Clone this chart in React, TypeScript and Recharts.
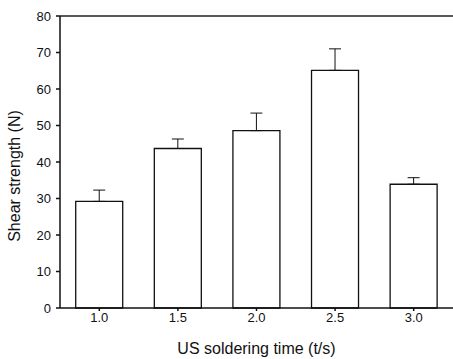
import { BarChart, Bar, XAxis, YAxis, ErrorBar, ReferenceLine, Label } from "recharts";

const times = ["1.0", "1.5", "2.0", "2.5", "3.0"];
const strength = [29.2, 43.7, 48.6, 65.1, 33.9];
const errUp = [3.1, 2.6, 4.8, 5.9, 1.8];
const yTicks = [0, 10, 20, 30, 40, 50, 60, 70, 80];

const data = times.map((t, i) => ({ time: t, value: strength[i], err: [0, errUp[i]] }));

const font = "Arial, 'Liberation Sans', Helvetica, sans-serif";

export default function App() {
  return (
    <div style={{ position: "absolute", left: 0, top: 0, width: 453, height: 359, background: "#fff", fontFamily: font }}>
      <BarChart
        width={453}
        height={359}
        data={data}
        margin={{ top: 16, right: 0, bottom: 0, left: 0 }}
        barCategoryGap="20%"
      >
        <XAxis
          dataKey="time"
          height={51}
          stroke="#111"
          strokeWidth={1.5}
          tickSize={3}
          tickMargin={2}
          tick={{ fill: "#111", fontSize: 13, fontFamily: font }}
        >
          <Label
            value="US soldering time (t/s)"
            position="insideBottom"
            offset={5}
            style={{ fill: "#111", fontSize: 16, fontFamily: font }}
          />
        </XAxis>
        <YAxis
          width={60}
          domain={[0, 80]}
          ticks={yTicks}
          interval={0}
          stroke="#111"
          strokeWidth={1.5}
          tickSize={4}
          tickMargin={5}
          tick={{ fill: "#111", fontSize: 13, fontFamily: font }}
        >
          <Label
            value="Shear strength (N)"
            angle={-90}
            position="insideLeft"
            offset={0}
            dx={14}
            dy={14}
            style={{ fill: "#111", fontSize: 16, fontFamily: font, textAnchor: "middle" }}
          />
        </YAxis>
        <ReferenceLine y={80} stroke="#222" strokeWidth={1.5} />
        <Bar dataKey="value" fill="#fff" stroke="#111" strokeWidth={1.3} isAnimationActive={false}>
          <ErrorBar dataKey="err" width={6} stroke="#111" strokeWidth={1} direction="y" />
        </Bar>
      </BarChart>
    </div>
  );
}
